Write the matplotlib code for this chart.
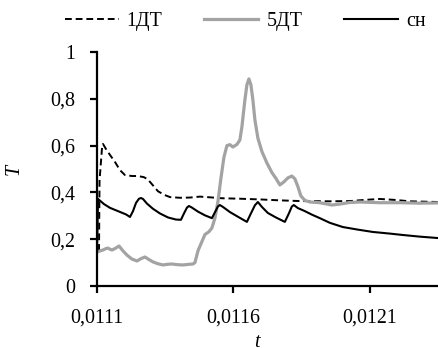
import matplotlib
matplotlib.use("Agg")
import matplotlib.pyplot as plt

# curves (t, T)
t_1dt = [0.0111073, 0.0111092, 0.0111183, 0.0111220, 0.0111330, 0.0111476,
         0.0111659, 0.0111842, 0.0112026, 0.0112282, 0.0112502, 0.0112722,
         0.0112868, 0.0113051, 0.0113234, 0.0113454, 0.0113674, 0.0114040,
         0.0114407, 0.0114773, 0.0115139, 0.0115579, 0.0116238, 0.0116971,
         0.0117703, 0.0118436, 0.0119535, 0.0120267, 0.0120817, 0.0121366,
         0.0121916, 0.0122465, 0.0123491]
T_1dt = [0.15, 0.45, 0.59, 0.607, 0.585, 0.56, 0.53, 0.495, 0.474, 0.47, 0.47,
         0.465, 0.455, 0.43, 0.405, 0.39, 0.38, 0.377, 0.378, 0.382, 0.379,
         0.375, 0.373, 0.37, 0.366, 0.363, 0.362, 0.363, 0.368, 0.372, 0.368,
         0.362, 0.359]

t_5dt = [0.0111000, 0.0111110, 0.0111220, 0.0111330, 0.0111403, 0.0111476,
         0.0111549, 0.0111659, 0.0111806, 0.0111952, 0.0112099, 0.0112282,
         0.0112465, 0.0112612, 0.0112758, 0.0112905, 0.0113051, 0.0113234,
         0.0113418, 0.0113601, 0.0113747, 0.0113967, 0.0114150, 0.0114407,
         0.0114516, 0.0114590, 0.0114700, 0.0114846, 0.0114956, 0.0115103,
         0.0115212, 0.0115322, 0.0115432, 0.0115542, 0.0115652, 0.0115762,
         0.0115872, 0.0115982, 0.0116128, 0.0116238, 0.0116311, 0.0116421,
         0.0116495, 0.0116568, 0.0116641, 0.0116714, 0.0116788, 0.0116897,
         0.0117044, 0.0117227, 0.0117410, 0.0117557, 0.0117703, 0.0117850,
         0.0117996, 0.0118143, 0.0118253, 0.0118363, 0.0118473, 0.0118619,
         0.0118802, 0.0119168, 0.0119608, 0.0119901, 0.0120267, 0.0120634,
         0.0121366, 0.0122099, 0.0122831, 0.0123491]
T_5dt = [0.145, 0.15, 0.154, 0.16, 0.162, 0.157, 0.154, 0.16, 0.171, 0.15,
         0.132, 0.115, 0.107, 0.117, 0.124, 0.113, 0.103, 0.095, 0.09, 0.093,
         0.094, 0.091, 0.09, 0.093, 0.094, 0.10, 0.15, 0.19, 0.22, 0.232,
         0.248, 0.29, 0.36, 0.46, 0.55, 0.60, 0.604, 0.594, 0.605, 0.624,
         0.68, 0.795, 0.86, 0.885, 0.86, 0.795, 0.71, 0.632, 0.575, 0.526,
         0.485, 0.46, 0.432, 0.445, 0.462, 0.47, 0.458, 0.425, 0.385, 0.366,
         0.359, 0.356, 0.346, 0.35, 0.357, 0.359, 0.356, 0.356, 0.354, 0.355]

t_sn = [0.0111000, 0.0111037, 0.0111256, 0.0111476, 0.0111769, 0.0112062,
        0.0112209, 0.0112319, 0.0112429, 0.0112538, 0.0112612, 0.0112685,
        0.0112832, 0.0113051, 0.0113308, 0.0113601, 0.0113894, 0.0114077,
        0.0114187, 0.0114297, 0.0114370, 0.0114480, 0.0114700, 0.0114956,
        0.0115212, 0.0115322, 0.0115432, 0.0115505, 0.0115615, 0.0115872,
        0.0116165, 0.0116495, 0.0116641, 0.0116788, 0.0116897, 0.0117044,
        0.0117264, 0.0117557, 0.0117886, 0.0118033, 0.0118143, 0.0118216,
        0.0118363, 0.0118619, 0.0118876, 0.0119168, 0.0119535, 0.0120011,
        0.0120560, 0.0121110, 0.0121733, 0.0122209, 0.0122831, 0.0123491]
T_sn = [0.15, 0.372, 0.35, 0.334, 0.32, 0.306, 0.295, 0.32, 0.355, 0.373,
        0.376, 0.372, 0.352, 0.33, 0.31, 0.293, 0.284, 0.283, 0.31, 0.335,
        0.342, 0.335, 0.318, 0.302, 0.29, 0.315, 0.34, 0.346, 0.338, 0.316,
        0.296, 0.274, 0.31, 0.345, 0.359, 0.338, 0.312, 0.293, 0.274, 0.31,
        0.34, 0.346, 0.333, 0.32, 0.305, 0.29, 0.27, 0.252, 0.241, 0.231,
        0.224, 0.218, 0.211, 0.205]

x_ticks = [0.0111, 0.0116, 0.0121]
x_labels = ["0,0111", "0,0116", "0,0121"]
y_ticks = [0, 0.2, 0.4, 0.6, 0.8, 1]
y_labels = ["0", "0,2", "0,4", "0,6", "0,8", "1"]

plt.rcParams["font.family"] = ["Liberation Serif", "DejaVu Serif"]
plt.rcParams["font.size"] = 14.4

fig = plt.figure(figsize=(4.38, 3.49), dpi=100)
ax = fig.add_axes([0.2215, 0.1805, 0.7785, 0.6705])

ax.plot(t_1dt, T_1dt, color="black", lw=1.4, dashes=(3.5, 2), label="1ДТ")
ax.plot(t_5dt, T_5dt, color="#a3a3a3", lw=2.3, label="5ДТ")
ax.plot(t_sn, T_sn, color="black", lw=1.5, label="сн")

ax.set_xlim(0.0111, 0.01235)
ax.set_ylim(0, 1)
ax.set_xticks(x_ticks)
ax.set_xticklabels(x_labels)
ax.set_yticks(y_ticks)
ax.set_yticklabels(y_labels)

for side in ["top", "right"]:
    ax.spines[side].set_visible(False)
for side in ["left", "bottom"]:
    ax.spines[side].set_linewidth(1.6)
ax.tick_params(axis="both", length=5, width=1.6, pad=11)

ax.set_xlabel("t", style="italic")
ax.xaxis.set_label_coords(0.469, -0.2)
ax.set_ylabel("T", style="italic")
ax.yaxis.set_label_coords(-0.215, 0.5)

ax.legend(ncol=3, loc="center", bbox_to_anchor=(0.56, 0.937),
          bbox_transform=fig.transFigure, frameon=False, handlelength=2.7,
          handletextpad=0.4, columnspacing=2.1, borderpad=0)

fig.savefig("out.png", dpi=100)
